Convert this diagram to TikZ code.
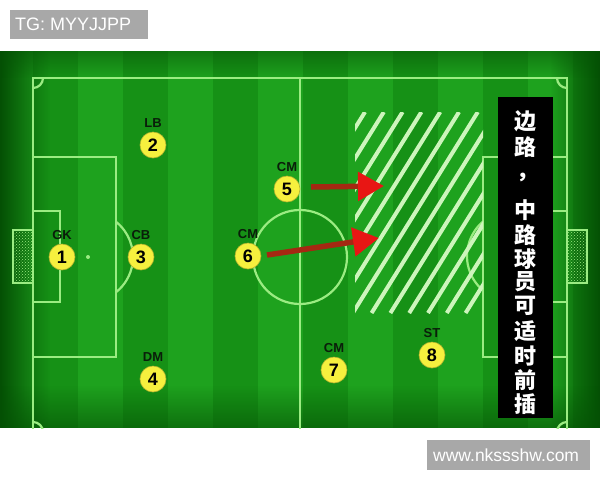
\documentclass[tikz,border=0pt]{standalone}
\usepackage{fontspec}
\setmainfont{Liberation Sans}
\newfontfamily\cjk{Noto Sans CJK SC}
\usetikzlibrary{arrows.meta,patterns,fadings,positioning}

\definecolor{pitchA}{RGB}{30,162,30}
\definecolor{pitchB}{RGB}{22,145,22}
\definecolor{pitchdark}{RGB}{4,80,4}
\definecolor{chalk}{RGB}{155,236,130}
\definecolor{hatchwhite}{RGB}{205,245,188}
\definecolor{ball}{RGB}{246,240,62}
\definecolor{roletext}{RGB}{10,30,10}
\definecolor{taggrey}{RGB}{168,168,168}
\definecolor{shaftred}{RGB}{165,40,18}
\definecolor{headred}{RGB}{232,22,20}

\tikzfading[name=fade right, left color=transparent!0, right color=transparent!100]
\tikzfading[name=fade left, left color=transparent!100, right color=transparent!0]
\tikzfading[name=fade down, top color=transparent!100, bottom color=transparent!0]
\tikzfading[name=fade up, top color=transparent!0, bottom color=transparent!100]

\tikzset{
  chalkline/.style={draw=chalk, line width=2.2pt},
  hatchline/.style={draw=hatchwhite, line width=4pt},
  player/.style={circle, fill=ball, draw=ball!75!black, line width=0.6pt,
                 minimum size=26pt, inner sep=0pt,
                 font=\fontsize{18}{18}\selectfont\bfseries},
  role/.style={text=roletext, inner sep=0pt,
               font=\fontsize{13}{13}\selectfont\bfseries},
  run/.style={draw=shaftred, line width=5.5pt,
              -{Triangle[length=26pt, width=28pt, color=headred]}},
  slogan/.style={text=white, inner sep=0pt,
                 font=\cjk\bfseries\fontsize{22}{22}\selectfont},
  tagbox/.style={fill=taggrey, text=white, inner sep=0pt, anchor=west}
}

\begin{document}
\begin{tikzpicture}[x=1pt, y=-1pt]
  \useasboundingbox (0,0) rectangle (600,480);
  \fill[white] (0,0) rectangle (600,480);

  \begin{scope}
    \clip (0,51) rectangle (600,428);
    % grass stripes
    \foreach \i in {0,...,13} {
      \ifodd\i \def\grass{pitchB}\else\def\grass{pitchA}\fi
      \fill[\grass] (-12+45*\i, 51) rectangle (33+45*\i, 428);
    }
    \fill[pitchdark, path fading=fade right] (0,51) rectangle (50,428);
    \fill[pitchdark, path fading=fade left] (550,51) rectangle (600,428);
    \fill[pitchdark, path fading=fade down, opacity=0.6] (0,385) rectangle (600,428);
    \fill[pitchdark, path fading=fade up, opacity=0.5] (0,51) rectangle (600,78);

    % pitch markings
    \draw[chalkline] (33,78) rectangle (567,432);
    \draw[chalkline] (300,78) -- (300,432);
    \draw[chalkline] (300,257) circle[radius=47];
    \draw[chalkline] (33,157) rectangle (116,357);
    \draw[chalkline] (33,211) rectangle (60,302);
    \draw[chalkline] (567,157) rectangle (483,357);
    \draw[chalkline] (567,211) rectangle (540,302);
    \draw[chalkline] (116,221.8) arc[start angle=-51.5, end angle=51.5, radius=45];
    \draw[chalkline] (483,221.6) arc[start angle=229.9, end angle=130.1, radius=45];
    \fill[chalk] (88,257) circle[radius=2];
    \draw[chalkline] (43,78) arc[start angle=0, end angle=90, radius=10];
    \draw[chalkline] (557,78) arc[start angle=180, end angle=90, radius=10];
    \draw[chalkline] (33,422) arc[start angle=-90, end angle=0, radius=10];
    \draw[chalkline] (567,422) arc[start angle=-90, end angle=-180, radius=10];

    % goals
    \fill[pattern=crosshatch dots, pattern color=chalk] (13,230) rectangle (33,283);
    \draw[chalk, line width=1.5pt] (33,230) -- (13,230) -- (13,283) -- (33,283);
    \fill[pattern=crosshatch dots, pattern color=chalk] (567,230) rectangle (587,283);
    \draw[chalk, line width=1.5pt] (567,230) -- (587,230) -- (587,283) -- (567,283);
  \end{scope}

  % space to run into
  \begin{scope}
    \clip (355,112) rectangle (483,313);
    \foreach \k in {0,...,12}
      \draw[hatchline] (365+18.8*\k-125, 313) -- (365+18.8*\k, 112);
  \end{scope}

  % players
  \node[player] (gk) at (62,257) {1};
  \node[player] (lb) at (153,145) {2};
  \node[player] (cb) at (141,257) {3};
  \node[player] (dm) at (153,379) {4};
  \node[player] (cmA) at (287,189) {5};
  \node[player] (cmB) at (248,256) {6};
  \node[player] (cmC) at (334,370) {7};
  \node[player] (st) at (432,355) {8};
  \node[role, above=4pt of gk] (gkrole) {GK};
  \node[role, above=4pt of lb] (lbrole) {LB};
  \node[role, above=4pt of cb] (cbrole) {CB};
  \node[role, above=4pt of dm] (dmrole) {DM};
  \node[role, above=4pt of cmA] (cmArole) {CM};
  \node[role, above=4pt of cmB] (cmBrole) {CM};
  \node[role, above=4pt of cmC] (cmCrole) {CM};
  \node[role, above=4pt of st] (strole) {ST};

  % forward runs
  \coordinate (runAfrom) at (311,187);
  \coordinate (runAto) at (384,186);
  \coordinate (runBfrom) at (267,255);
  \coordinate (runBto) at (379,238);
  \draw[run] (runAfrom) -- (runAto);
  \draw[run] (runBfrom) -- (runBto);

  % caption
  \fill[black] (498,97) rectangle (553,418);
  \foreach \ch/\yy [count=\i] in {边/121, 路/147, 中/210, 路/235, 球/259, 员/282,
                                   可/306, 适/331, 时/356, 前/380, 插/404}
    \node[slogan] (char\i) at (525,\yy) {\ch};
  \node[slogan] (comma) at (527,177) {，};

  % watermarks
  \node[tagbox, minimum width=138pt, minimum height=29pt] (tg) at (10,24.5) {};
  \node[text=white, anchor=west, inner sep=0pt,
        font=\fontsize{18}{18}\selectfont] (tgtext) at (15,24.5) {TG: MYYJJPP};
  \node[tagbox, minimum width=163pt, minimum height=30pt] (web) at (427,455) {};
  \node[text=white, anchor=west, inner sep=0pt,
        font=\fontsize{17.5}{17.5}\selectfont] (webtext) at (433,455) {www.nkssshw.com};
\end{tikzpicture}
\end{document}
